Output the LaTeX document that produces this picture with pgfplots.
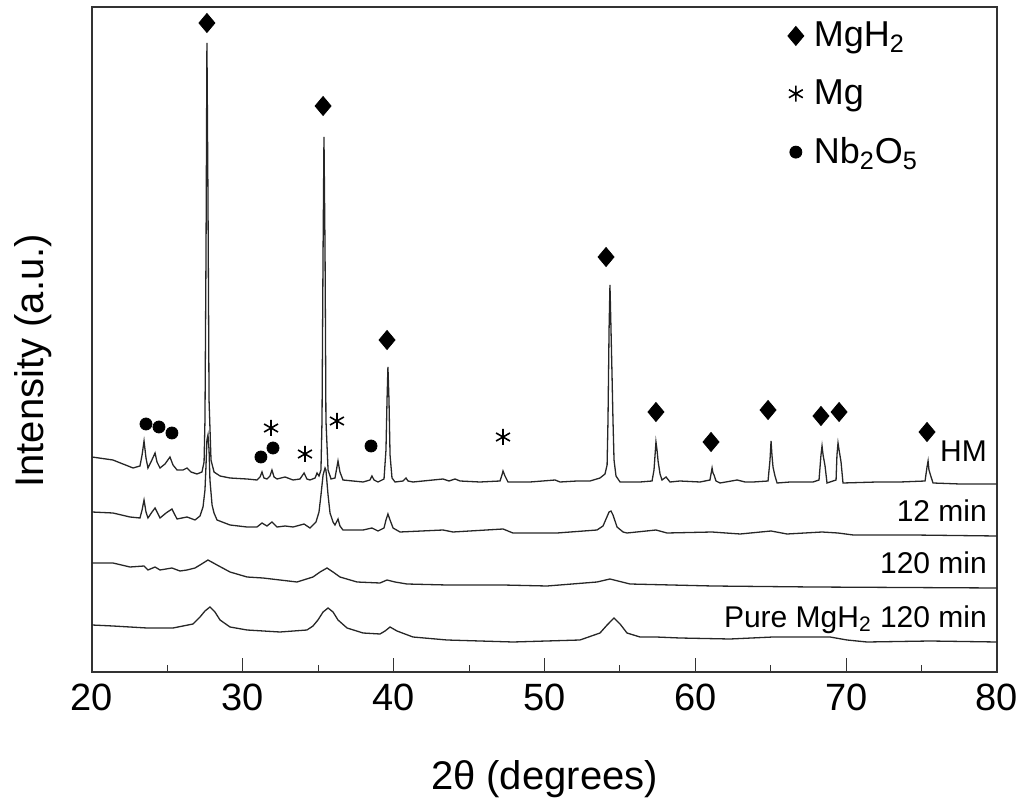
\documentclass[border=0pt]{standalone}
\usepackage{fontspec}
\setmainfont{Liberation Sans}
\usepackage{pgfplots}
\pgfplotsset{compat=1.18}

\begin{document}
\begin{tikzpicture}
\begin{axis}[
    at={(0,0)}, anchor=south west,
    scale only axis, width=452.5pt, height=332.5pt,
    xmin=20, xmax=80, ymin=0, ymax=665,
    xtick={20,30,...,80}, minor x tick num=1,
    ytick=\empty,
    xtick pos=lower, tick align=inside,
    major tick length=7pt, minor tick length=3.5pt,
    axis line style={line width=0.8pt, black!80},
    every tick/.style={black!80, line width=0.5pt},
    /pgf/number format/assume math mode=true,
    xticklabel style={font=\fontsize{19}{22}\selectfont, yshift=-2.5pt},
    every axis x label/.style={at={(axis description cs:0.5,-0.1774)}, anchor=base, font=\fontsize{20}{24}\selectfont},
    every axis y label/.style={at={(axis description cs:-0.0541,0.468)}, anchor=base, rotate=90, font=\fontsize{20}{24}\selectfont},
    xlabel={2θ (degrees)},
    ylabel={Intensity (a.u.)},
    legend style={draw=none, fill=none, at={(axis description cs:0.7685,0.984)}, anchor=north west,
        inner sep=0pt, row sep=11pt, font=\fontsize{18}{21}\selectfont,
        /tikz/every odd column/.append style={column sep=3pt}},
    legend cell align=left,
    legend image code/.code={\draw[#1] plot coordinates {(0pt,0pt)};},
]

% HM
\addplot[black!85, line width=0.65pt, forget plot] coordinates {
(20.00,215)(21.39,212)(22.72,204)(23.18,206)(23.32,217)(23.45,231)(23.58,214)(23.71,204)
(23.91,210)(24.18,219)(24.31,210)(24.51,204)(24.84,208)(25.17,215)(25.37,207)(25.64,202)
(26.03,202)(26.30,204)(26.56,200)(26.96,198)(27.29,200)(27.43,210)(27.49,252)(27.56,422)
(27.62,629)(27.69,472)(27.76,272)(27.89,212)(28.09,200)(28.49,196)(29.15,194)(30.28,193)
(30.94,192)(31.14,195)(31.27,200)(31.40,194)(31.60,193)(31.80,196)(31.93,202)(32.07,195)
(32.27,193)(32.80,195)(33.33,192)(33.79,193)(34.06,199)(34.25,193)(34.45,192)(34.79,194)
(34.92,199)(35.05,196)(35.18,202)(35.25,252)(35.32,422)(35.38,535)(35.45,422)(35.51,252)
(35.65,202)(35.85,193)(36.11,194)(36.31,211)(36.44,200)(36.64,192)(37.97,190)(38.43,192)
(38.56,196)(38.70,192)(38.96,190)(39.36,193)(39.49,222)(39.56,272)(39.62,305)(39.69,272)
(39.76,217)(39.89,194)(40.09,190)(40.62,191)(40.82,194)(40.95,191)(41.28,190)(43.27,193)
(43.67,191)(44.07,193)(44.40,191)(45.72,190)(47.05,191)(47.18,197)(47.25,201)(47.38,196)
(47.58,190)(49.04,190)(50.70,192)(51.03,190)(52.16,191)(53.02,191)(53.68,194)(54.01,198)
(54.15,207)(54.21,252)(54.28,342)(54.34,387)(54.41,342)(54.48,295)(54.54,252)(54.61,212)
(54.74,196)(55.01,190)(56.33,190)(57.13,191)(57.26,202)(57.39,230)(57.46,222)(57.53,211)
(57.66,198)(57.79,192)(58.06,195)(58.32,190)(58.98,191)(60.31,190)(60.97,192)(61.11,204)
(61.17,199)(61.24,197)(61.37,191)(61.64,189)(62.77,192)(63.30,190)(63.83,190)(64.82,191)
(64.95,212)(65.02,231)(65.08,217)(65.15,205)(65.28,196)(65.42,189)(66.28,190)(67.80,190)
(68.20,192)(68.33,217)(68.40,226)(68.47,217)(68.60,206)(68.73,189)(69.33,192)(69.39,217)
(69.46,229)(69.53,222)(69.66,210)(69.79,189)(72.05,190)(73.57,190)(75.23,191)(75.36,205)
(75.43,211)(75.49,202)(75.63,195)(75.76,189)(77.55,188)(80.00,188)
};

% 12 min
\addplot[black!85, line width=0.65pt, forget plot] coordinates {
(20.00,160)(21.39,159)(22.52,155)(23.18,154)(23.32,162)(23.45,172)(23.58,160)(23.71,154)
(23.98,160)(24.18,164)(24.38,158)(24.51,154)(24.91,159)(25.30,163)(25.50,157)(25.64,153)
(26.30,155)(26.83,152)(27.16,156)(27.36,165)(27.49,182)(27.56,207)(27.62,232)(27.69,237)
(27.76,222)(27.82,192)(27.96,167)(28.09,159)(28.29,152)(29.15,147)(30.28,145)(30.94,145)
(31.27,149)(31.60,146)(31.93,150)(32.27,145)(32.80,146)(33.33,145)(34.06,148)(34.45,144)
(34.85,150)(35.05,160)(35.18,177)(35.32,197)(35.45,204)(35.51,202)(35.65,177)(35.78,159)
(35.98,150)(36.11,147)(36.31,153)(36.44,146)(36.64,142)(37.97,142)(38.56,144)(38.96,141)
(39.36,144)(39.49,152)(39.62,158)(39.76,152)(39.96,144)(40.42,140)(43.27,142)(43.93,140)
(47.25,143)(47.91,139)(50.83,139)(53.48,142)(53.88,146)(54.08,153)(54.28,160)(54.41,161)
(54.54,157)(54.81,145)(55.21,140)(55.47,139)(57.39,142)(58.12,139)(61.11,140)(62.97,138)
(65.02,141)(66.08,138)(68.40,140)(69.46,139)(70.47,137)(74.45,137)(80.00,136)
};

% 120 min
\addplot[black!85, line width=0.65pt, forget plot] coordinates {
(20.00,109)(21.39,109)(22.52,105)(23.45,106)(23.71,102)(24.18,105)(24.51,102)(25.30,104)
(25.83,101)(26.30,102)(26.83,104)(27.16,107)(27.69,112)(28.29,107)(29.15,100)(30.28,95)
(31.34,94)(32.46,92)(33.59,90)(34.65,95)(35.12,100)(35.58,104)(35.98,100)(36.44,95)
(37.57,90)(39.09,89)(39.56,92)(40.09,90)(40.88,88)(43.54,87)(47.25,87)(50.17,86)
(53.48,90)(54.34,93)(55.67,88)(61.17,86)(67.80,85)(80.00,84)
};

% Pure MgH2 120 min
\addplot[black!85, line width=0.65pt, forget plot] coordinates {
(20.00,47)(21.39,46)(23.65,44)(25.37,44)(26.70,48)(27.16,55)(27.49,61)(27.82,65)
(28.15,60)(28.49,52)(29.15,45)(30.28,42)(32.46,40)(34.25,42)(34.65,46)(34.98,52)
(35.32,60)(35.65,64)(35.98,60)(36.31,52)(36.91,44)(37.97,39)(39.09,38)(39.43,41)
(39.76,45)(40.22,41)(41.28,35)(43.54,32)(47.91,30)(52.35,32)(53.68,39)(54.15,47)
(54.61,54)(55.01,48)(55.47,39)(56.33,35)(57.39,35)(58.98,34)(62.30,33)(65.15,35)
(68.93,35)(70.06,32)(71.38,30)(75.56,31)(80.00,30)
};

% phase markers
\addplot[only marks, mark=diamond*, mark size=4.75pt, mark options={xscale=1.12, fill=black}, black] coordinates {
(27.62,649)(35.32,566)(39.56,332)(54.08,415)(57.39,260)(61.04,230)(64.82,262)(68.33,256)(69.53,260)(75.36,240)
};
\addlegendentry{MgH\textsubscript{2}}
\addplot[only marks, mark=asterisk, mark size=4pt, mark options={line width=0.8pt}, black] coordinates {
(31.87,244)(34.12,218)(36.24,251)(47.25,235)
};
\addlegendentry{Mg}
\addplot[only marks, mark=*, mark size=3pt, black] coordinates {
(23.58,248)(24.44,245)(25.30,239)(31.20,215)(32.00,224)(38.50,226)
};
\addlegendentry{Nb\textsubscript{2}O\textsubscript{5}}

\node[anchor=base east, inner sep=0pt, font=\fontsize{15}{18}\selectfont] at (axis cs:79.35,210) {HM};
\node[anchor=base east, inner sep=0pt, font=\fontsize{15}{18}\selectfont] at (axis cs:79.35,150) {12 min};
\node[anchor=base east, inner sep=0pt, font=\fontsize{15}{18}\selectfont] at (axis cs:79.35,98) {120 min};
\node[anchor=base east, inner sep=0pt, font=\fontsize{15}{18}\selectfont] at (axis cs:79.35,45) {Pure MgH\textsubscript{2} 120 min};
\end{axis}
\pgfresetboundingbox
\path (-46pt,-68.5pt) rectangle (466pt,336pt);
\end{tikzpicture}
\end{document}
